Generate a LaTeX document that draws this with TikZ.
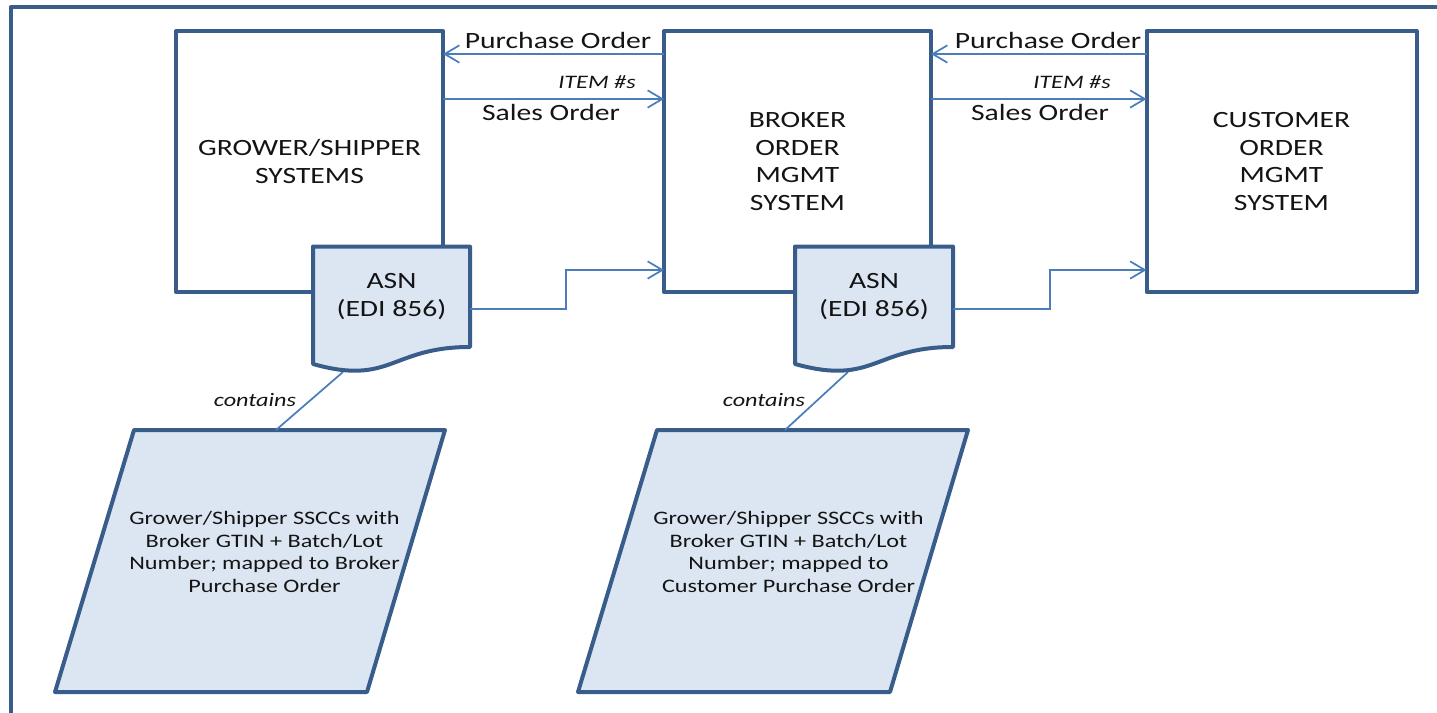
\documentclass[tikz,border=0pt]{standalone}
\usepackage{fontspec}
\setmainfont{Carlito}[FakeStretch=1.27]
\usetikzlibrary{arrows.meta,calc}
\definecolor{bordc}{RGB}{56,93,138}
\definecolor{fillc}{RGB}{220,230,242}
\definecolor{linec}{RGB}{74,126,187}
\definecolor{txtc}{RGB}{20,20,20}
\begin{document}
\begin{tikzpicture}[x=0.75pt,y=-0.75pt,
  sysbox/.style={draw=bordc, line width=3pt, fill=white, line join=round,
    inner sep=0pt, outer sep=0pt, text=txtc, align=center,
    font=\fontsize{17.5}{20.6}\selectfont},
  docshape/.style={draw=bordc, line width=3pt, fill=fillc, line join=round},
  conn/.style={draw=linec, line width=1.3pt},
  arr/.style={conn, -{Straight Barb[length=11pt,width=13pt]}},
  bigtxt/.style={font=\fontsize{17.5}{20.6}\selectfont, text=txtc, align=center, inner sep=0pt},
  smalltxt/.style={font=\fontsize{14.3}{16.9}\selectfont, text=txtc, align=center, inner sep=0pt},
  itxt/.style={font=\fontsize{14.3}{16.9}\selectfont\itshape, text=txtc, inner sep=0pt},
]
\useasboundingbox (0,0) rectangle (1437,713);
% outer frame (partly visible)
\draw[bordc, line width=3pt, line join=round] (10.5,740) -- (10.5,7.5) -- (1460,7.5);

% system boxes
\node[sysbox, minimum width=200.25pt, minimum height=195.75pt] (box1) at (309.5,161.5) {GROWER/SHIPPER\\SYSTEMS};
\node[sysbox, minimum width=200.25pt, minimum height=195.75pt] (box2) at (797.5,161.5) {BROKER\\ORDER\\MGMT\\SYSTEM};
\node[sysbox, minimum width=202.5pt, minimum height=195.75pt] (box3) at (1281.5,161.5) {CUSTOMER\\ORDER\\MGMT\\SYSTEM};

% order arrows
\draw[arr] ([yshift=-17.25pt]box2.north west) -- ([yshift=-17.25pt]box1.north east);
\draw[arr] ([yshift=-51pt]box1.north east) -- ([yshift=-51pt]box2.north west);
\draw[arr] ([yshift=-17.25pt]box3.north west) -- ([yshift=-17.25pt]box2.north east);
\draw[arr] ([yshift=-51pt]box2.north east) -- ([yshift=-51pt]box3.north west);
\node[bigtxt] (po1) at (558,40) {Purchase Order};
\node[itxt] (it1) at (597,82) {ITEM \#s};
\node[bigtxt] (so1) at (551,112) {Sales Order};
\node[bigtxt] (po2) at (1048,40) {Purchase Order};
\node[itxt] (it2) at (1072,82) {ITEM \#s};
\node[bigtxt] (so2) at (1040,112) {Sales Order};

% parallelograms
\draw[docshape] (134,430) -- (445,430) -- (367,692) -- (55,692) -- cycle;
\node[smalltxt] (par1) at (264.5,552) {Grower/Shipper SSCCs with\\Broker GTIN + Batch/Lot\\Number; mapped to Broker\\Purchase Order};
\draw[docshape] (657,430) -- (968,430) -- (890,692) -- (578,692) -- cycle;
\node[smalltxt] (par2) at (788.5,552) {Grower/Shipper SSCCs with\\Broker GTIN + Batch/Lot\\Number; mapped to\\Customer Purchase Order};

% contains links
\coordinate (a1b) at (343,372);
\coordinate (p1t) at (276,430);
\coordinate (a2b) at (848,372);
\coordinate (p2t) at (785,430);
\draw[conn] (a1b) -- (p1t);
\draw[conn] (a2b) -- (p2t);
\node[itxt] (c1) at (255,400) {contains};
\node[itxt] (c2) at (764,400) {contains};

% ASN documents
\draw[docshape] (313,246.5) -- (470,246.5) -- (470,347) .. controls (391,347) and (391,386) .. (313,364) -- cycle;
\node[bigtxt, minimum width=117.75pt, minimum height=75pt] (asn1) at (391.5,296.5) {ASN\\(EDI 856)};
\draw[docshape] (795,246.5) -- (953,246.5) -- (953,347) .. controls (874,347) and (874,386) .. (795,364) -- cycle;
\node[bigtxt, minimum width=118.5pt, minimum height=75pt] (asn2) at (874,296.5) {ASN\\(EDI 856)};

% ASN to next system
\draw[arr] ([yshift=-9.4pt]asn1.east) -- ++(96,0) |- ([yshift=16.5pt]box2.south west);
\draw[arr] ([yshift=-9.4pt]asn2.east) -- ++(97,0) |- ([yshift=16.5pt]box3.south west);
\end{tikzpicture}
\end{document}
